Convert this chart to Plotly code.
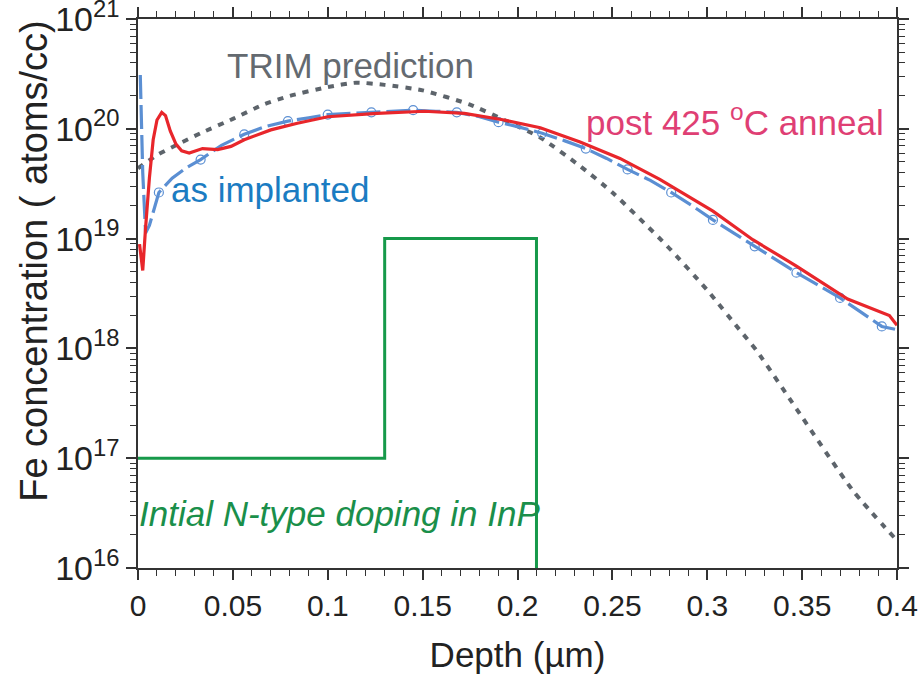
import numpy as np
import plotly.graph_objects as go

# ---- data (depth in µm, concentration in atoms/cc) ----
trim_depth = [0.0, 0.01, 0.02, 0.033, 0.05, 0.066, 0.08, 0.10, 0.115, 0.13, 0.15,
              0.175, 0.193, 0.212, 0.233, 0.25, 0.279, 0.30, 0.317, 0.326, 0.347,
              0.377, 0.40]
trim_log = [19.64, 19.76, 19.85, 19.96, 20.09, 20.22, 20.30, 20.38, 20.42, 20.40, 20.35,
            20.22, 20.08, 19.92, 19.66, 19.42, 18.93, 18.53, 18.17, 17.98, 17.45,
            16.70, 16.25]

impl_depth = [0.0012, 0.0025, 0.004, 0.006, 0.011, 0.018, 0.025, 0.033, 0.044, 0.056,
              0.067, 0.079, 0.09, 0.10, 0.112, 0.123, 0.135, 0.145, 0.157, 0.168,
              0.18, 0.19, 0.20, 0.213, 0.225, 0.236, 0.247, 0.258, 0.27, 0.281,
              0.292, 0.303, 0.314, 0.325, 0.336, 0.347, 0.358, 0.37, 0.381, 0.392, 0.40]
impl_log = [20.49, 19.60, 19.05, 19.12, 19.42, 19.55, 19.64, 19.72, 19.85, 19.95,
            20.02, 20.07, 20.10, 20.13, 20.14, 20.15, 20.16, 20.17, 20.16, 20.15,
            20.11, 20.06, 20.02, 19.96, 19.89, 19.82, 19.73, 19.63, 19.53, 19.42,
            19.30, 19.17, 19.05, 18.93, 18.81, 18.69, 18.58, 18.46, 18.33, 18.20, 18.17]
# positions of the open-circle symbols along the as-implanted profile
impl_marker_idx = [4, 7, 9, 11, 13, 15, 17, 19, 21, 23, 25, 27, 29, 31, 33, 35, 37, 39]

anneal_depth = [0.0008, 0.0025, 0.004, 0.006, 0.008, 0.010, 0.0125, 0.0145, 0.017, 0.020,
                0.023, 0.027, 0.034, 0.042, 0.049, 0.056, 0.07, 0.084, 0.10, 0.126,
                0.151, 0.172, 0.193, 0.212, 0.233, 0.254, 0.275, 0.303, 0.324, 0.347,
                0.374, 0.391, 0.396, 0.40]
anneal_log = [18.95, 18.71, 19.10, 19.55, 19.90, 20.08, 20.15, 20.12, 19.98, 19.86,
              19.80, 19.78, 19.82, 19.81, 19.84, 19.90, 19.99, 20.05, 20.11, 20.14,
              20.16, 20.14, 20.08, 20.01, 19.88, 19.73, 19.54, 19.25, 18.99, 18.75,
              18.45, 18.33, 18.30, 18.21]

doping_depth = [0.0, 0.13, 0.13, 0.21, 0.21]
doping_conc = [1e17, 1e17, 1e19, 1e19, 1e15]

y_tick_vals = [1e16, 1e17, 1e18, 1e19, 1e20, 1e21]
y_tick_text = ["10<sup>16</sup>", "10<sup>17</sup>", "10<sup>18</sup>",
               "10<sup>19</sup>", "10<sup>20</sup>", "10<sup>21</sup>"]
y_minor_vals = [float(m) * 10.0 ** e for e in range(16, 21) for m in range(2, 10)]
x_tick_vals = [0, 0.05, 0.1, 0.15, 0.2, 0.25, 0.3, 0.35, 0.4]
x_tick_text = ["0", "0.05", "0.1", "0.15", "0.2", "0.25", "0.3", "0.35", "0.4"]
x_minor_vals = [k / 100 for k in range(0, 41) if k % 5 != 0]

# ---- colours ----
C_TRIM = "#5d646b"
C_IMPL = "#5b8fd3"
C_ANNEAL = "#e8262b"
C_DOPE = "#16994a"
C_AXIS = "#333333"
C_TEXT = "#222222"
FONT = "Liberation Sans, Arial, sans-serif"

fig = go.Figure()

fig.add_trace(go.Scatter(
    x=doping_depth, y=doping_conc, mode="lines",
    line=dict(color=C_DOPE, width=3), hoverinfo="skip"))

fig.add_trace(go.Scatter(
    x=trim_depth, y=10 ** np.array(trim_log), mode="lines",
    line=dict(color=C_TRIM, width=4, dash="6px,7px", shape="spline", smoothing=0.6)))

fig.add_trace(go.Scatter(
    x=impl_depth, y=10 ** np.array(impl_log), mode="lines",
    line=dict(color=C_IMPL, width=3.2, dash="24px,6px")))

fig.add_trace(go.Scatter(
    x=[impl_depth[i] for i in impl_marker_idx],
    y=[10 ** impl_log[i] for i in impl_marker_idx], mode="markers",
    marker=dict(symbol="circle-open", size=9, color=C_IMPL, line=dict(width=1.2))))

fig.add_trace(go.Scatter(
    x=anneal_depth, y=10 ** np.array(anneal_log), mode="lines",
    line=dict(color=C_ANNEAL, width=3.2)))

# curve labels
fig.add_annotation(x=0.112, y=20.58, text="TRIM prediction", showarrow=False,
                   font=dict(family=FONT, size=35, color="#646a70"))
fig.add_annotation(x=0.0697, y=19.45, text="as implanted", showarrow=False,
                   font=dict(family=FONT, size=35, color="#1b7cc2"))
fig.add_annotation(x=0.3148, y=20.08, text="post 425 <sup>o</sup>C anneal", showarrow=False,
                   font=dict(family=FONT, size=35, color="#df3f74"))
fig.add_annotation(x=0.1061, y=16.50, text="<i>Intial N-type doping in InP</i>", showarrow=False,
                   font=dict(family=FONT, size=35, color="#1a8f4a"))

# vertical axis title, set slightly above the plot centre
fig.add_annotation(xref="paper", yref="paper", x=-0.138, y=0.56,
                   text="Fe concentration ( atoms/cc)", textangle=-90, showarrow=False,
                   xanchor="center", yanchor="middle",
                   font=dict(family=FONT, size=38, color=C_TEXT))

axis_common = dict(
    showline=True, linecolor=C_AXIS, linewidth=1.5, mirror="ticks",
    ticks="outside", tickcolor=C_AXIS, tickwidth=1.5, ticklen=10,
    showgrid=False, zeroline=False, automargin=False, ticklabeloverflow="allow",
)

fig.update_xaxes(
    range=[0, 0.4], tickvals=x_tick_vals, ticktext=x_tick_text,
    tickfont=dict(family=FONT, size=30, color=C_TEXT),
    minor=dict(tickvals=x_minor_vals, ticks="outside", ticklen=6,
               tickcolor=C_AXIS, tickwidth=1.2, showgrid=False),
    title=dict(text="Depth (\u00b5m)", standoff=22,
               font=dict(family=FONT, size=35, color=C_TEXT)),
    **axis_common)

fig.update_yaxes(
    type="log", range=[16, 21], tickvals=y_tick_vals, ticktext=y_tick_text,
    tickfont=dict(family=FONT, size=34, color=C_TEXT),
    minor=dict(tickvals=y_minor_vals, ticks="outside", ticklen=6,
               tickcolor=C_AXIS, tickwidth=1.2, showgrid=False),
    **axis_common)

fig.update_layout(
    width=922, height=679,
    margin=dict(l=138, r=25, t=19, b=111),
    paper_bgcolor="white", plot_bgcolor="white",
    showlegend=False,
)

fig.write_html("out.html")
